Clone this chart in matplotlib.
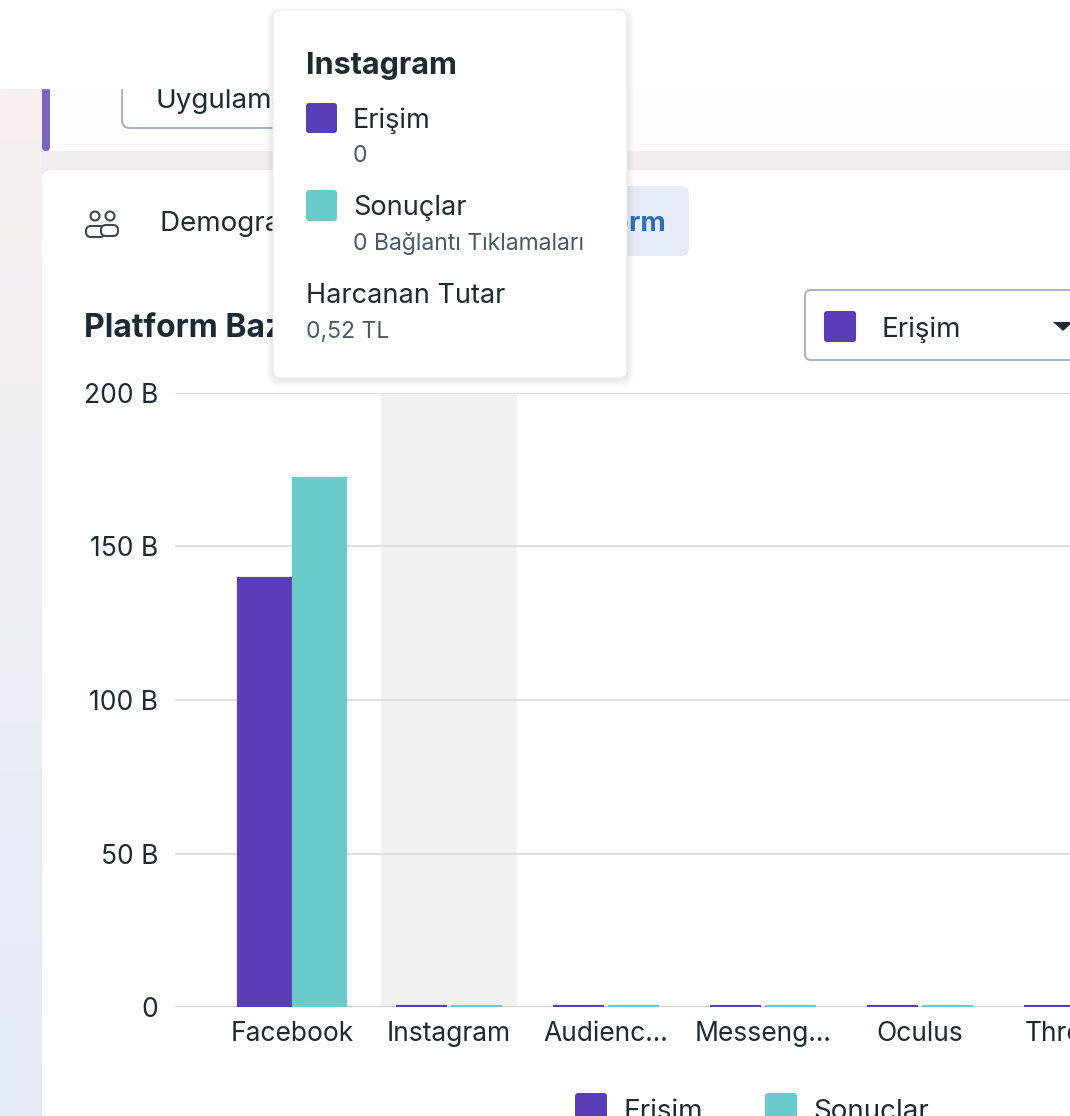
import numpy as np
import matplotlib
matplotlib.use('Agg')
import matplotlib.pyplot as plt
from matplotlib.patches import FancyBboxPatch, Rectangle, Circle, Polygon

plt.rcParams['font.family'] = ['Inter', 'DejaVu Sans']

# chart data (billions)
platforms = ['Facebook', 'Instagram', 'Audienc...', 'Messeng...', 'Oculus', 'Threads']
erisim = [139.4, 0, 0, 0, 0, 0]
sonuclar = [172.0, 0, 0, 0, 0, 0]
ytick_vals = [0, 50, 100, 150, 200]
ytick_labels = ['0', '50 B', '100 B', '150 B', '200 B']
series_names = ['Erişim', 'Sonuçlar']
hover_idx = 1

# tooltip texts
tip_title = 'Instagram'
tip_erisim = '0'
tip_sonuc = '0 Bağlantı Tıklamaları'
tip_spend_label = 'Harcanan Tutar'
tip_spend = '0,52 TL'

PURPLE = '#5a3eb8'
TEAL = '#69cbca'
DARK = '#1c2b33'
GREY = '#465a69'
W, H = 1070, 1116

fig = plt.figure(figsize=(W / 100, H / 100), dpi=100)

# ---- page background (pixel coordinates) ----
bg = fig.add_axes([0, 0, 1, 1], zorder=0)
bg.axis('off')

grad = np.linspace(0, 1, 200)[:, None]
c1 = np.array(matplotlib.colors.to_rgb('#f8f0f0'))
c2 = np.array(matplotlib.colors.to_rgb('#e3eaf7'))
img = (c1 * (1 - grad) + c2 * grad)[:, None, :].repeat(2, axis=1)
bg.imshow(img, extent=[0, W, H, 88], aspect='auto', zorder=0)
bg.set_xlim(0, W)
bg.set_ylim(H, 0)

# gap between cards
bg.add_patch(Rectangle((42, 150), W, 22, color='#f0ecef', zorder=1))
# first card
bg.add_patch(FancyBboxPatch((44, 40), W, 111, boxstyle='round,pad=0,rounding_size=8',
                            fc='#fdfdfd', ec='none', zorder=2))
bg.add_patch(FancyBboxPatch((42, 40), 8, 111, boxstyle='round,pad=0,rounding_size=4',
                            fc='#7b63c1', ec='none', zorder=3))
bg.add_patch(FancyBboxPatch((122, 55), 300, 73, boxstyle='round,pad=0,rounding_size=8',
                            fc='white', ec='#a9b4c2', lw=1.5, zorder=3))
bg.text(155, 108, 'Uygulama', fontsize=20, color=DARK, zorder=4)
# sticky white header
bg.add_patch(Rectangle((0, 0), W, 88, color='white', zorder=5))

# second card
bg.add_patch(FancyBboxPatch((42, 170), W + 20, H, boxstyle='round,pad=0,rounding_size=10',
                            fc='white', ec='none', zorder=2))
# people icon
for cx in (95, 110):
    bg.add_patch(Circle((cx, 216), 4.5, fc='none', ec='#3c4850', lw=1.5, zorder=3))
bg.add_patch(FancyBboxPatch((86, 226), 19, 11, boxstyle='round,pad=0,rounding_size=5',
                            fc='white', ec='#3c4850', lw=1.5, zorder=3))
bg.add_patch(FancyBboxPatch((101, 225), 17, 11, boxstyle='round,pad=0,rounding_size=5',
                            fc='white', ec='#3c4850', lw=1.5, zorder=4))
bg.text(160, 231, 'Demografik Bilgiler', fontsize=20, color=DARK, zorder=3)
# active tab
bg.add_patch(FancyBboxPatch((540, 186), 149, 70, boxstyle='round,pad=0,rounding_size=8',
                            fc='#e5ecf7', ec='none', zorder=3))
bg.text(666, 231, 'Platform', fontsize=20, color='#2e6fbd', weight='bold', ha='right', zorder=4)
# title
bg.text(84, 337, 'Platform Bazında', fontsize=23, color=DARK, weight='bold', zorder=3)
# dropdown
bg.add_patch(FancyBboxPatch((805, 290), 300, 70, boxstyle='round,pad=0,rounding_size=6',
                            fc='white', ec='#a9b4c2', lw=1.5, zorder=3))
bg.add_patch(FancyBboxPatch((824, 311), 32, 31, boxstyle='round,pad=0,rounding_size=3',
                            fc=PURPLE, ec='none', zorder=4))
bg.text(881, 337, series_names[0], fontsize=20, color=DARK, zorder=4)
bg.add_patch(Polygon([(1053, 322), (1073, 322), (1063, 331)], closed=True, fc=DARK, zorder=4))

# bottom legend
for x0, name, col in [(575, series_names[0], PURPLE), (765, series_names[1], TEAL)]:
    bg.add_patch(FancyBboxPatch((x0, 1093), 32, 32, boxstyle='round,pad=0,rounding_size=3',
                                fc=col, ec='none', zorder=3))
    bg.text(x0 + 48, 1119, name, fontsize=20, color=DARK, zorder=3)

# ---- the chart ----
ax = fig.add_axes([175 / W, (H - 1007) / H, 980 / W, 614 / H], zorder=2)
ax.patch.set_visible(False)
x = np.arange(len(platforms))
off, bw = 0.175, 0.325
ax.axvspan(hover_idx - 0.433, hover_idx + 0.433, color='#f1f1f1', zorder=0.2, lw=0)
ax.bar(x - off, erisim, bw, color=PURPLE, edgecolor=PURPLE, lw=3, zorder=3)
ax.bar(x + off, sonuclar, bw, color=TEAL, edgecolor=TEAL, lw=3, zorder=3)
ax.axhline(0, color='#d0d0d0', lw=2.2, zorder=2)
ax.set_xlim(-0.745, 5.5)
ax.set_ylim(0, 200)
ax.set_yticks(ytick_vals)
ax.set_yticklabels(ytick_labels)
ax.set_xticks(x)
ax.set_xticklabels(platforms)
ax.yaxis.grid(True, color='#dcdcdc', lw=1.3)
ax.set_axisbelow(True)
for s in ax.spines.values():
    s.set_visible(False)
ax.tick_params(axis='y', length=0, pad=12, labelsize=19, labelcolor=DARK)
ax.tick_params(axis='x', length=0, pad=10, labelsize=19, labelcolor=DARK)

# ---- tooltip overlay ----
ov = fig.add_axes([0, 0, 1, 1], zorder=5)
ov.set_xlim(0, W)
ov.set_ylim(H, 0)
ov.axis('off')
ov.patch.set_visible(False)
for i in range(8):
    ov.add_patch(FancyBboxPatch((273 - i, 12 - i + 2), 354 + 2 * i, 366 + 2 * i,
                                boxstyle='round,pad=0,rounding_size=%d' % (8 + i),
                                fc='black', ec='none', alpha=0.012, zorder=1))
ov.add_patch(FancyBboxPatch((273, 10), 354, 368, boxstyle='round,pad=0,rounding_size=8',
                            fc='white', ec='#ececec', lw=0.8, zorder=2))
ov.text(306, 74, tip_title, fontsize=22, color=DARK, weight='bold', zorder=3)
ov.add_patch(FancyBboxPatch((306, 103), 31, 30, boxstyle='round,pad=0,rounding_size=3',
                            fc=PURPLE, ec='none', zorder=3))
ov.text(353, 128, series_names[0], fontsize=19.5, color=DARK, zorder=3)
ov.text(353, 162, tip_erisim, fontsize=16.5, color=GREY, zorder=3)
ov.add_patch(FancyBboxPatch((306, 190), 31, 31, boxstyle='round,pad=0,rounding_size=3',
                            fc=TEAL, ec='none', zorder=3))
ov.text(353, 215, series_names[1], fontsize=19.5, color=DARK, zorder=3)
ov.text(353, 250, tip_sonuc, fontsize=16.5, color=GREY, zorder=3)
ov.text(306, 303, tip_spend_label, fontsize=19.5, color=DARK, zorder=3)
ov.text(306, 338, tip_spend, fontsize=16.5, color=GREY, zorder=3)

fig.savefig('out.png', dpi=100)
